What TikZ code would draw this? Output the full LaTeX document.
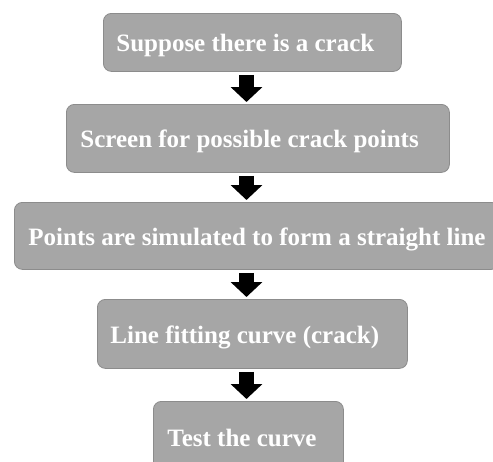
\documentclass[tikz,border=0pt]{standalone}
\usepackage{fontspec}
\setmainfont{Liberation Serif}
\usetikzlibrary{arrows.meta}
\definecolor{boxfill}{HTML}{A6A6A6}
\definecolor{boxline}{HTML}{8C8C8C}
\tikzset{
  stepbox/.style={draw=boxline, line width=0.8pt, fill=boxfill, rounded corners=8pt,
    anchor=north west, inner ysep=0pt, text=white, text height=25pt, text depth=6pt,
    font=\fontsize{25}{28}\selectfont\bfseries},
  flowarrow/.style={line width=15pt, -{Triangle[width=31pt,length=15pt]},
    shorten <=3pt, shorten >=2pt, black}
}
\newcommand{\boxtext}[2]{\makebox[#1][l]{#2}}
\begin{document}
\begin{tikzpicture}[x=1pt,y=-1pt]
\useasboundingbox (0,0) rectangle (493,461);
\clip (0,0) rectangle (493,461);
\fill[white] (0,0) rectangle (493,461);
\coordinate (ax) at (246.5,0);
\node[stepbox, minimum width=298pt, minimum height=58pt, inner xsep=13pt] (b1) at (103,13)
  {\boxtext{272pt}{Suppose there is a crack}};
\node[stepbox, minimum width=383pt, minimum height=68pt, inner xsep=14pt] (b2) at (66,104)
  {\boxtext{355pt}{Screen for possible crack points}};
\node[stepbox, minimum width=485pt, minimum height=67pt, inner xsep=14pt] (b3) at (14,202)
  {\boxtext{457pt}{Points are simulated to form a straight line}};
\node[stepbox, minimum width=310pt, minimum height=69pt, inner xsep=13pt] (b4) at (97,299)
  {\boxtext{284pt}{Line fitting curve (crack)}};
\node[stepbox, minimum width=190pt, minimum height=72pt, inner xsep=14pt] (b5) at (153,401)
  {\boxtext{162pt}{Test the curve}};
\draw[flowarrow] (ax |- b1.south) -- (ax |- b2.north);
\draw[flowarrow] (ax |- b2.south) -- (ax |- b3.north);
\draw[flowarrow] (ax |- b3.south) -- (ax |- b4.north);
\draw[flowarrow] (ax |- b4.south) -- (ax |- b5.north);
\end{tikzpicture}
\end{document}
